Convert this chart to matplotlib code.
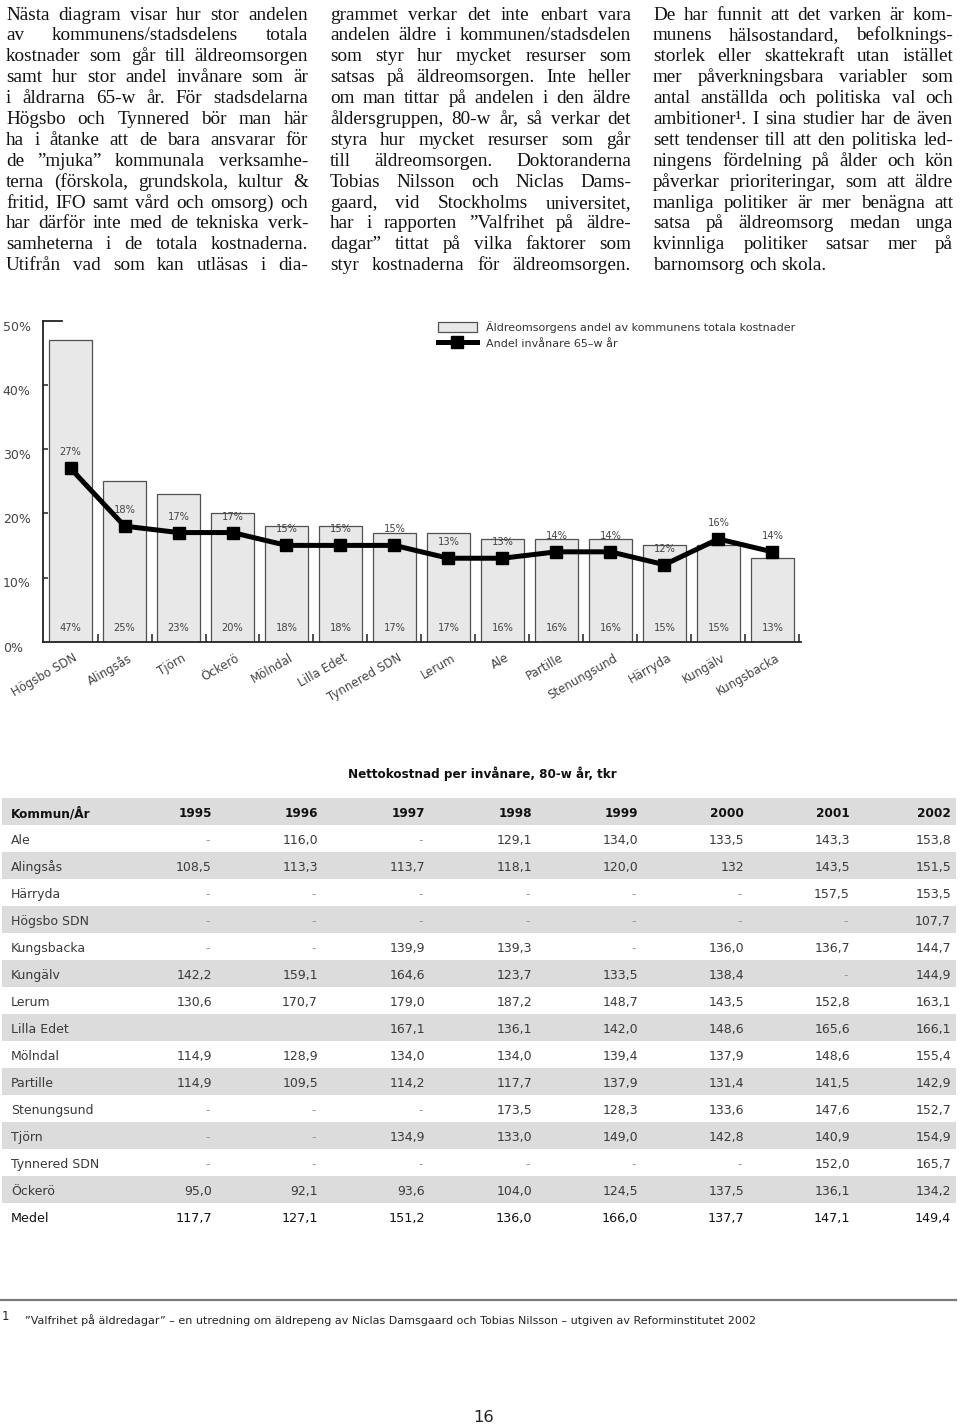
import matplotlib
matplotlib.use("Agg")
import matplotlib.pyplot as plt
from matplotlib import font_manager
from matplotlib.font_manager import FontProperties
from matplotlib.transforms import blended_transform_factory

W, H, DPI = 960, 1427, 100

# ---------------- data ----------------
categories = ["Högsbo SDN", "Alingsås", "Tjörn", "Öckerö", "Mölndal", "Lilla Edet",
              "Tynnered SDN", "Lerum", "Ale", "Partille", "Stenungsund", "Härryda",
              "Kungälv", "Kungsbacka"]
cost_share = [47, 25, 23, 20, 18, 18, 17, 17, 16, 16, 16, 15, 15, 13]
elderly_share = [27, 18, 17, 17, 15, 15, 15, 13, 13, 14, 14, 12, 16, 14]
y_ticks = [0, 10, 20, 30, 40, 50]
legend_labels = ["Äldreomsorgens andel av kommunens totala kostnader",
                 "Andel invånare 65–w år"]

table_title = "Nettokostnad per invånare, 80-w år, tkr"
table_header = ["Kommun/År", "1995", "1996", "1997", "1998", "1999", "2000", "2001", "2002"]
table_rows = ["Ale", "Alingsås", "Härryda", "Högsbo SDN", "Kungsbacka", "Kungälv", "Lerum",
              "Lilla Edet", "Mölndal", "Partille", "Stenungsund", "Tjörn", "Tynnered SDN", "Öckerö"]
table_values = [
    ["-", "116,0", "-", "129,1", "134,0", "133,5", "143,3", "153,8"],
    ["108,5", "113,3", "113,7", "118,1", "120,0", "132", "143,5", "151,5"],
    ["-", "-", "-", "-", "-", "-", "157,5", "153,5"],
    ["-", "-", "-", "-", "-", "-", "-", "107,7"],
    ["-", "-", "139,9", "139,3", "-", "136,0", "136,7", "144,7"],
    ["142,2", "159,1", "164,6", "123,7", "133,5", "138,4", "-", "144,9"],
    ["130,6", "170,7", "179,0", "187,2", "148,7", "143,5", "152,8", "163,1"],
    ["", "", "167,1", "136,1", "142,0", "148,6", "165,6", "166,1"],
    ["114,9", "128,9", "134,0", "134,0", "139,4", "137,9", "148,6", "155,4"],
    ["114,9", "109,5", "114,2", "117,7", "137,9", "131,4", "141,5", "142,9"],
    ["-", "-", "-", "173,5", "128,3", "133,6", "147,6", "152,7"],
    ["-", "-", "134,9", "133,0", "149,0", "142,8", "140,9", "154,9"],
    ["-", "-", "-", "-", "-", "-", "152,0", "165,7"],
    ["95,0", "92,1", "93,6", "104,0", "124,5", "137,5", "136,1", "134,2"],
]
medel_label = "Medel"
medel_values = ["117,7", "127,1", "151,2", "136,0", "166,0", "137,7", "147,1", "149,4"]

col1_lines = [
    "Nästa diagram visar hur stor andelen",
    "av kommunens/stadsdelens totala",
    "kostnader som går till äldreomsorgen",
    "samt hur stor andel invånare som är",
    "i åldrarna 65-w år. För stadsdelarna",
    "Högsbo och Tynnered bör man här",
    "ha i åtanke att de bara ansvarar för",
    "de ”mjuka” kommunala verksamhe-",
    "terna (förskola, grundskola, kultur &",
    "fritid, IFO samt vård och omsorg) och",
    "har därför inte med de tekniska verk-",
    "samheterna i de totala kostnaderna.",
    "Utifrån vad som kan utläsas i dia-",
]
col2_lines = [
    "grammet verkar det inte enbart vara",
    "andelen äldre i kommunen/stadsdelen",
    "som styr hur mycket resurser som",
    "satsas på äldreomsorgen. Inte heller",
    "om man tittar på andelen i den äldre",
    "åldersgruppen, 80-w år, så verkar det",
    "styra hur mycket resurser som går",
    "till äldreomsorgen. Doktoranderna",
    "Tobias Nilsson och Niclas Dams-",
    "gaard, vid Stockholms universitet,",
    "har i rapporten ”Valfrihet på äldre-",
    "dagar” tittat på vilka faktorer som",
    "styr kostnaderna för äldreomsorgen.",
]
col3_lines = [
    "De har funnit att det varken är kom-",
    "munens hälsostandard, befolknings-",
    "storlek eller skattekraft utan istället",
    "mer påverkningsbara variabler som",
    "antal anställda och politiska val och",
    "ambitioner¹. I sina studier har de även",
    "sett tendenser till att den politiska led-",
    "ningens fördelning på ålder och kön",
    "påverkar prioriteringar, som att äldre",
    "manliga politiker är mer benägna att",
    "satsa på äldreomsorg medan unga",
    "kvinnliga politiker satsar mer på",
    "barnomsorg och skola.",
]
footnote_mark = "1"
footnote_text = ("\u201dValfrihet på äldredagar\u201d – en utredning om äldrepeng av Niclas "
                 "Damsgaard och Tobias Nilsson – utgiven av Reforminstitutet 2002")
page_number = "16"

# ---------------- layout / style ----------------
available = {f.name for f in font_manager.fontManager.ttflist}
NARROW = "Liberation Sans Narrow" if "Liberation Sans Narrow" in available else "DejaVu Sans"
SERIF = "Liberation Serif" if "Liberation Serif" in available else "DejaVu Serif"
SANS = "DejaVu Sans"
GREY_TXT = "#444444"

fig = plt.figure(figsize=(W / DPI, H / DPI), dpi=DPI)
renderer = fig.canvas.get_renderer()
page = fig.add_axes([0, 0, 1, 1])
page.set_xlim(0, W)
page.set_ylim(H, 0)
page.axis("off")


def fx(px):
    return px / W


def fy(py):
    return 1 - py / H


def text_w(s, fp):
    w, h, d = renderer.get_text_width_height_descent(s, fp, ismath=False)
    return w


def fit_size(s, target_w, family, weight="normal", ref=10.0):
    fp = FontProperties(family=family, weight=weight, size=ref)
    return ref * target_w / text_w(s, fp)


# ---------- text columns (justified) ----------
columns = [(col1_lines, 6, 308), (col2_lines, 330, 631), (col3_lines, 653, 953)]
baseline0, leading = 19.5, 20.9


def worst_ratio(size):
    fp = FontProperties(family=SERIF, size=size)
    worst = 0
    for lines, xl, xr in columns:
        for ln in (lines[:-1] if lines is col3_lines else lines):
            words = ln.split(" ")
            need = sum(text_w(w, fp) for w in words) + (len(words) - 1) * size * 0.24
            worst = max(worst, need / (xr - xl))
    return worst


lo, hi = 9.0, 20.0
for _ in range(18):
    mid = (lo + hi) / 2
    if worst_ratio(mid) <= 1.0:
        lo = mid
    else:
        hi = mid
size = min(lo, 13.8)
fp_body = FontProperties(family=SERIF, size=size)

for lines, xl, xr in columns:
    for i, ln in enumerate(lines):
        yb = baseline0 + i * leading
        words = ln.split(" ")
        widths = [text_w(w, fp_body) for w in words]
        last_para_line = (lines is col3_lines and i == len(lines) - 1)
        if last_para_line or len(words) == 1:
            gap = text_w("a a", fp_body) - 2 * text_w("a", fp_body)
        else:
            gap = ((xr - xl) - sum(widths)) / (len(words) - 1)
        x = xl
        for w, ww in zip(words, widths):
            page.text(x, yb, w, fontproperties=fp_body, ha="left", va="baseline", color="#111111")
            x += ww + gap

# ---------- chart ----------
x0, x1 = 43, 801
y_top, y_bot = 320.7, 641.7
ax = fig.add_axes([fx(x0), fy(y_bot), (x1 - x0) / W, (y_bot - y_top) / H])
ax.set_facecolor("none")
n = len(categories)
xs = list(range(n))
ax.set_xlim(-0.51, n - 1 + 0.53)
ax.set_ylim(y_ticks[0], y_ticks[-1])

bars = ax.bar(xs, cost_share, width=0.8, color="#e8e8e8", edgecolor="#505050",
              linewidth=0.9, zorder=2)
line, = ax.plot(xs, elderly_share, color="black", lw=3.6, marker="s", ms=8,
                solid_joinstyle="miter", zorder=3)

for s in ["top", "right"]:
    ax.spines[s].set_visible(False)
for s in ["left", "bottom"]:
    ax.spines[s].set_linewidth(1.3)
    ax.spines[s].set_color("#222222")
ax.set_yticks(y_ticks[1:-1])
ax.tick_params(axis="y", direction="in", length=3.6, width=1.1, color="#222222",
               labelleft=False)
ax.set_xticks([i + 0.5 for i in xs])
ax.tick_params(axis="x", direction="in", length=5.5, width=1.1, color="#222222",
               labelbottom=False)
ax.axhline(y_ticks[-1], xmin=0, xmax=19 / (x1 - x0), color="#222222", lw=1.3,
           clip_on=False)

ytrans = blended_transform_factory(ax.transAxes, ax.transData)
for v in y_ticks:
    ax.text((2.7 - x0) / (x1 - x0), v - 1.0, f"{v}%", transform=ytrans, ha="left",
            va="center", fontsize=9, color=GREY_TXT, family=SANS)

for i, v in enumerate(cost_share):
    ax.text(i, 2.1, f"{v}%", ha="center", va="center", fontsize=7.1,
            color=GREY_TXT, zorder=4)
for i, v in enumerate(elderly_share):
    ax.annotate(f"{v}%", (i, v), xytext=(0, 11.5), textcoords="offset points",
                ha="center", va="center", fontsize=7.1, color=GREY_TXT, zorder=4)
for i, c in enumerate(categories):
    ax.text(i + 0.05, -1.5, c, rotation=30, rotation_mode="anchor", ha="right",
            va="top", fontsize=8.5, color=GREY_TXT)

ax.legend(handles=[bars, line], labels=legend_labels, loc="upper left",
          bbox_to_anchor=(fx(438), fy(321)), bbox_transform=fig.transFigure,
          frameon=False, fontsize=8, handlelength=3.5, handleheight=1.08,
          labelspacing=0.45, handletextpad=0.85, borderpad=0, borderaxespad=0,
          labelcolor="#333333")

# ---------- table ----------
title_size = fit_size(table_title, 269, NARROW, "bold")
page.text(482.5, 774, table_title, ha="center", va="center", family=NARROW,
          weight="bold", fontsize=title_size, color="#111111")

row_h = 27
t_top = 798.3
n_rows = len(table_rows) + 2
tax = fig.add_axes([0, fy(t_top + n_rows * row_h), 1, n_rows * row_h / H])
tax.set_xlim(0, W)
tax.set_ylim(n_rows - 0.5, -0.5)
tax.axis("off")
tax.set_facecolor("none")
for r in range(n_rows):
    if r % 2 == 0:
        tax.axhspan(r - 0.5, r + 0.5, xmin=2 / W, xmax=956 / W, color="#dcdcdc",
                    lw=0, zorder=0)

label_x = 11
col_right = [212, 318, 425, 532, 638, 744, 850, 951]
dy = 0.06
tax.text(label_x, 0 + dy, table_header[0], ha="left", va="center", fontsize=8.7,
         weight="bold", color="#111111")
for j, h in enumerate(table_header[1:]):
    tax.text(col_right[j], 0 + dy, h, ha="right", va="center", fontsize=8.7,
             weight="bold", color="#111111")
for r, (name, vals) in enumerate(zip(table_rows, table_values), start=1):
    tax.text(label_x, r + dy, name, ha="left", va="center", fontsize=9, color="#3a3a3a")
    for j, v in enumerate(vals):
        col = "#9a9a9a" if v == "-" else "#3a3a3a"
        tax.text(col_right[j] - (2 if v == "-" else 0), r + dy, v, ha="right",
                 va="center", fontsize=9, color=col)
r = n_rows - 1
tax.text(label_x, r + dy, medel_label, ha="left", va="center", fontsize=9.2, color="#111111")
for j, v in enumerate(medel_values):
    tax.text(col_right[j], r + dy, v, ha="right", va="center", fontsize=9.2, color="#111111")

# ---------- footnote & page number ----------
page.plot([0, 956], [1300, 1300], color="#7a7a7a", lw=1.6)
page.text(2, 1317, footnote_mark, ha="left", va="center", fontsize=8.5, color="#222222",
          family=NARROW)
fn_size = fit_size(footnote_text, 733, NARROW)
page.text(25, 1320, footnote_text, ha="left", va="center", fontsize=fn_size,
          color="#222222", family=NARROW)
pn_size = fit_size(page_number, 21, NARROW)
page.text(484, 1418, page_number, ha="center", va="center", fontsize=pn_size,
          color="#222222", family=NARROW)

fig.savefig("out.png", dpi=DPI)
